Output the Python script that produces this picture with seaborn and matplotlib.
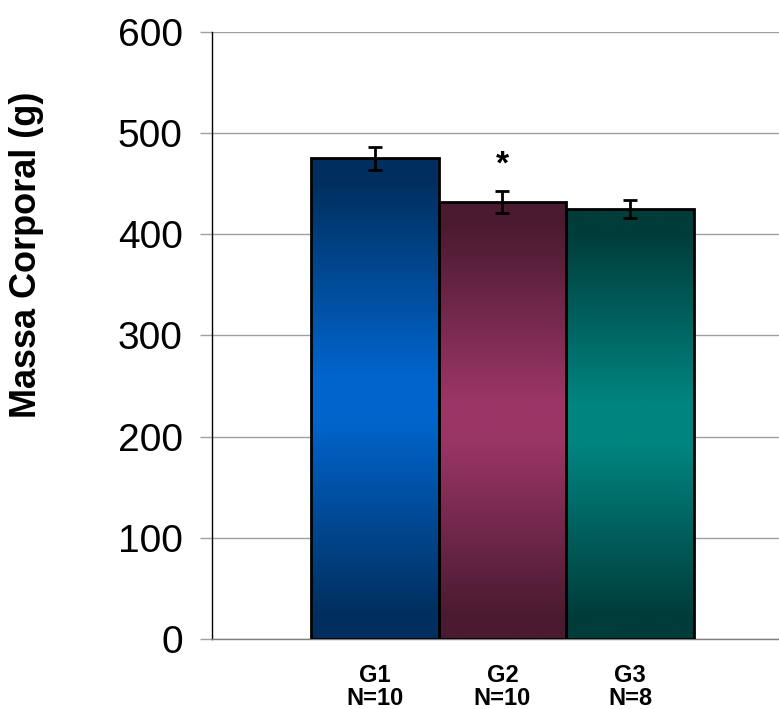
import numpy as np
import pandas as pd
import seaborn as sns
import matplotlib
matplotlib.use('Agg')
from matplotlib import pyplot as plt
from matplotlib.colors import LinearSegmentedColormap

# Data
groups = ['G1\nN=10', 'G2\nN=10', 'G3\nN=8']
means = [475, 432, 425]
errors = [11, 11, 9]

# dark edge colour / bright centre colour for each bar
dark_colors = ['#002f5f', '#4a1a30', '#003c3a']
light_colors = ['#0064cc', '#9a3566', '#00847f']

df = pd.DataFrame({'group': groups, 'mass': means})

sns.set_style('white')
plt.rcParams['font.family'] = ['Liberation Sans', 'DejaVu Sans']
plt.rcParams['text.color'] = 'black'
plt.rcParams['axes.labelcolor'] = 'black'
plt.rcParams['ytick.labelcolor'] = 'black'
plt.rcParams['xtick.labelcolor'] = 'black'

fig = plt.figure(figsize=(7.79, 7.09), dpi=100)
ax = fig.add_axes([0.272, 0.0987, 0.728, 0.8562])

ax = sns.barplot(data=df, x='group', y='mass', hue='group', width=1.0,
                 errorbar=None, legend=False, edgecolor='black', linewidth=2,
                 ax=ax, zorder=3)

# Fill every bar with a vertical gradient: dark at top and bottom, bright in the middle
for patch, dark, light in zip(ax.patches, dark_colors, light_colors):
    x0 = patch.get_x()
    w = patch.get_width()
    h = patch.get_height()
    cmap = LinearSegmentedColormap.from_list(
        'g', [(0, dark), (0.05, dark), (0.45, light), (0.55, light), (0.95, dark), (1, dark)])
    grad = np.linspace(0, 1, 256).reshape(-1, 1)
    im = ax.imshow(grad, cmap=cmap, aspect='auto', extent=[x0, x0 + w, 0, h],
                   origin='lower', zorder=2)
    im.set_clip_path(patch)
    patch.set_facecolor('none')

ax.errorbar(range(len(means)), means, yerr=errors, fmt='none', ecolor='black',
            elinewidth=2, capsize=5, capthick=2, zorder=4)

# significance mark over G2
ax.text(1, 468, '*', ha='center', va='center', fontsize=24, fontweight='bold')

ax.set_xlim(-1.275, 3.166)
ax.set_ylim(0, 600)
ax.set_yticks([0, 100, 200, 300, 400, 500, 600])
ax.yaxis.grid(True, color='#a0a0a0', linewidth=1, zorder=0)
ax.set_axisbelow(True)

for s in ['top', 'right']:
    ax.spines[s].set_visible(False)
ax.spines['left'].set_color('black')
ax.spines['left'].set_linewidth(1)
ax.spines['bottom'].set_color('#808080')
ax.spines['bottom'].set_linewidth(1)

ax.tick_params(axis='y', length=9, color='#a0a0a0', width=1, labelsize=28, pad=12,
               left=True)
ax.tick_params(axis='x', length=0, pad=18)
for lbl in ax.get_xticklabels():
    lbl.set_fontsize(17)
    lbl.set_fontweight('bold')
    lbl.set_linespacing(1.0)

ax.set_xlabel('')
ax.set_ylabel('Massa Corporal (g)', fontsize=26, fontweight='bold')
ax.yaxis.set_label_coords(-0.296, 0.633)

fig.savefig('out.png', dpi=100)
